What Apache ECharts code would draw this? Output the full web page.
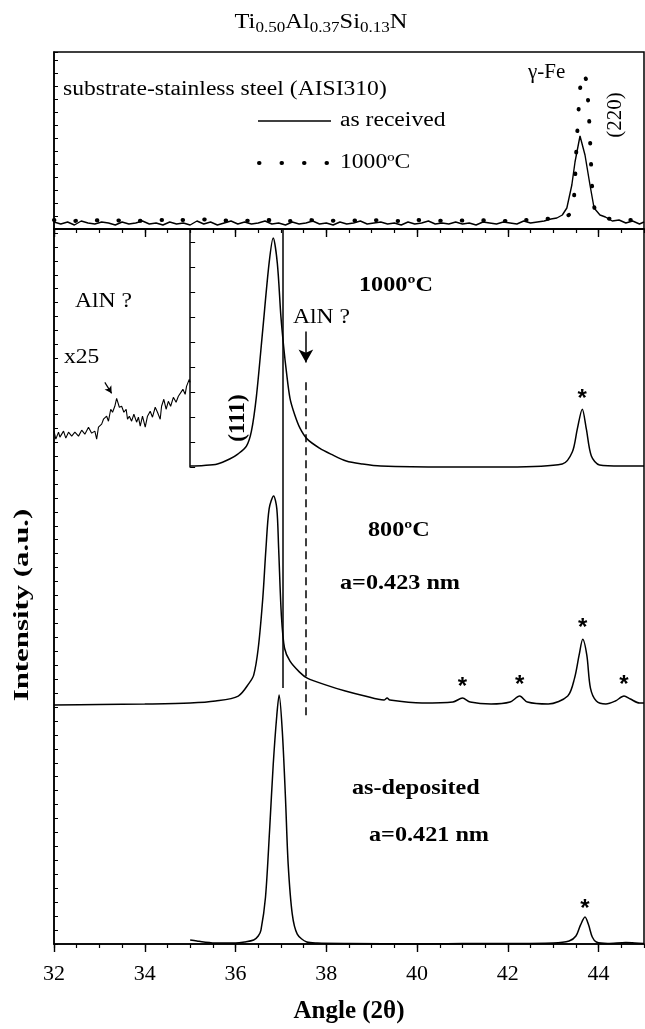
<!DOCTYPE html>
<html>
<head>
<meta charset="utf-8">
<script src="https://cdn.jsdelivr.net/npm/echarts@6/dist/echarts.min.js"></script>
<style>
  html, body { margin: 0; padding: 0; background: #fff; }
  #chart { width: 645px; height: 1029px; }
</style>
</head>
<body>
<div id="chart"></div>
<script>
// ---- Axis range and tick labels (2θ, degrees) ----
const ANGLE_MIN = 32;
const ANGLE_MAX = 45;
const ANGLE_LABELS = [32, 34, 36, 38, 40, 42, 44];

// ---- Substrate AISI310, top panel: [2θ, counts] ----
const substrateAsReceived = [
  [32.0,7],[32.15,5],[32.3,7],[32.45,4],[32.6,8],[32.75,6],[32.9,5],[33.05,7],[33.2,6],[33.35,4],
  [33.5,7],[33.65,5],[33.8,6],[33.95,8],[34.1,5],[34.25,6],[34.4,4],[34.55,7],[34.7,5],[34.85,6],
  [35.0,4],[35.15,8],[35.3,5],[35.45,7],[35.6,4],[35.75,6],[35.9,8],[36.05,5],[36.2,7],[36.35,5],
  [36.5,6],[36.65,8],[36.8,5],[36.95,6],[37.1,4],[37.25,7],[37.4,5],[37.55,6],[37.7,8],[37.85,5],
  [38.0,6],[38.15,4],[38.3,7],[38.45,5],[38.6,6],[38.75,8],[38.9,5],[39.05,6],[39.2,7],[39.35,5],
  [39.5,6],[39.65,4],[39.8,7],[39.95,5],[40.1,6],[40.25,8],[40.4,5],[40.55,6],[40.7,5],[40.85,7],
  [41.0,5],[41.15,6],[41.3,4],[41.45,7],[41.6,6],[41.75,5],[41.9,7],[42.05,6],[42.2,5],[42.35,8],
  [42.5,6],[42.65,7],[42.8,8],[42.95,10],[43.08,11],[43.2,14],[43.3,21],[43.41,44],[43.48,67],[43.59,93],
  [43.7,74],[43.81,44],[43.9,21],[44.03,14],[44.15,12],[44.3,8],[44.45,9],[44.6,6],[44.75,8],[44.9,5],[45.0,7]
];
const substrate1000 = [
  [32.0,9],[32.4,8],[32.8,9],[33.2,8],[33.6,9],[34.0,8],[34.4,9],[34.8,9],[35.2,10],[35.6,8],
  [36.0,9],[36.4,8],[36.8,9],[37.2,8],[37.6,9],[38.0,8],[38.4,9],[38.8,8],[39.2,9],[39.6,8],
  [40.0,9],[40.4,8],[40.8,9],[41.2,8],[41.6,9],[42.0,8],[42.4,9],[42.8,10],[43.1,11],[43.3,13],
  [43.42,17],[43.47,40],[43.51,80],[43.56,120],[43.61,148],[43.67,156],[43.73,148],[43.78,120],
  [43.82,80],[43.86,40],[43.92,18],[44.0,12],[44.3,10],[44.6,9],[45.0,9]
];

// ---- Ti0.50Al0.37Si0.13N coatings, lower panel: [2θ, counts above own baseline] ----
const asDeposited = [
  [35.0,4],[35.15,3],[35.3,2],[35.6,1],[36.0,1],[36.2,2],[36.4,4],[36.5,8],[36.56,14],[36.66,47],
  [36.75,114],[36.83,180],[36.91,230],[36.96,250],[37.03,214],[37.1,147],[37.16,80],[37.25,30],
  [37.36,10],[37.57,2],[37.8,1],[38.5,0.5],[40.0,0],[41.0,0.5],[42.0,0.5],[43.0,1],[43.35,3],
  [43.5,8],[43.6,19],[43.7,27],[43.78,19],[43.86,7],[43.95,2],[44.2,0.5],[44.6,1.5],[44.8,1],[45.0,0.5]
];
const annealed800 = [
  [32.0,0],[33.0,0.5],[34.0,1],[35.0,2],[35.56,4],[36.06,9],[36.3,22],[36.4,30],[36.5,57],[36.6,107],
  [36.67,157],[36.74,197],[36.84,210],[36.91,197],[36.95,157],[37.01,90],[37.08,57],[37.2,44],
  [37.41,33],[37.58,27],[38.0,20],[38.42,14],[38.85,9],[39.27,5],[39.34,7],[39.4,5],[40.11,2],
  [40.79,3],[41.0,7],[41.17,3],[41.63,1],[42.05,3],[42.26,9],[42.43,3],[42.89,1],[43.32,9],
  [43.47,27],[43.57,50],[43.65,66],[43.74,50],[43.82,17],[43.95,4],[44.16,1],[44.37,4],[44.56,9],
  [44.7,6],[44.9,2],[45.0,2]
];
const annealed1000 = [
  [35.0,0],[35.3,0.5],[35.6,2],[35.87,7],[36.05,12],[36.24,20],[36.35,35],[36.46,70],[36.6,137],
  [36.74,204],[36.83,229],[36.92,204],[37.0,150],[37.06,120],[37.12,95],[37.2,68],[37.3,52],
  [37.42,38],[37.58,27],[37.85,18],[38.1,12],[38.44,5],[38.8,2],[39.2,0],[40.65,-1],[42.0,-1],
  [43.2,2],[43.42,14],[43.53,37],[43.64,57],[43.73,37],[43.84,10],[44.02,1],[44.5,0],[45.0,0]
];
// 1000ºC scan below 35º, magnified x25
const zoom25Angle = [
  32.0,32.04,32.10,32.13,32.21,32.26,32.32,32.39,32.46,32.54,32.61,32.68,32.76,32.83,32.90,32.94,
  32.98,33.05,33.09,33.16,33.20,33.25,33.29,33.34,33.38,33.44,33.49,33.54,33.59,33.62,33.66,33.71,
  33.76,33.82,33.86,33.90,33.95,34.01,34.06,34.12,34.17,34.23,34.28,34.34,34.37,34.42,34.47,34.52,
  34.57,34.63,34.69,34.74,34.78,34.84,34.89,34.92,34.98,35.0
];
const zoom25Counts = [
  35,27,34,29,35,28,34,30,34,30,36,32,39,33,35,27,39,42,47,50,45,57,54,60,68,59,60,54,57,47,
  50,45,52,44,49,40,50,39,50,55,49,59,54,47,60,67,57,65,60,69,64,70,69,77,72,80,87,84
];

// Peaks flagged with an asterisk (2θ)
const starAsDeposited = [43.7];
const star800 = [41.0, 42.26, 43.65, 44.56];
const star1000 = [43.64];

// Reference lines (2θ)
const TIN_111 = 37.03;
const ALN_REF = 37.55;

// ---- Layout ----
const FONT = '"Liberation Serif", "Times New Roman", serif';
const GRID_LEFT = 54, GRID_RIGHT = 1;
const TOP_PANEL = { top: 52, height: 177 };
const LOW_PANEL = { top: 229, height: 718 };
const TOP_MAX = 177;          // counts span of top panel
const LOW_MAX = 718;          // counts span of lower panel
const OFFSET = { asDeposited: 0, t800: 240, t1000: 480 };
const INSET_ANGLE = 35;

const shift = (d, o) => d.map(([a, c]) => [a, c + o]);
const zoom25 = zoom25Angle.map((a, i) => [a, zoom25Counts[i] + OFFSET.t1000]);

function starPoints(data, angles, off, lift) {
  return angles.map(a => {
    let best = data[0];
    for (const p of data) if (Math.abs(p[0] - a) < Math.abs(best[0] - a)) best = p;
    return { coord: [a, best[1] + off], label: { offset: [0, -lift] } };
  });
}
const starMark = (pts) => ({
  silent: true, symbol: 'circle', symbolSize: 0, animation: false,
  label: { show: true, formatter: '*', position: 'inside', color: '#000',
           fontSize: 24, fontWeight: 'bold', fontFamily: '"Liberation Sans", Arial, sans-serif' },
  data: pts
});

const BLACK = '#000';
const axisLineStyle = { show: true, lineStyle: { color: BLACK, width: 1.5 } };

function xAxesFor(gridIndex, withLabels) {
  return [
    { type: 'value', gridIndex, position: 'bottom', min: ANGLE_MIN, max: ANGLE_MAX, interval: 0.5,
      axisLine: axisLineStyle, splitLine: { show: false },
      axisTick: { show: true, inside: false, length: 4, lineStyle: { color: BLACK, width: 1.2 } },
      axisLabel: { show: false } },
    { type: 'value', gridIndex, position: 'bottom', offset: 0, min: ANGLE_MIN, max: ANGLE_MAX, interval: 2,
      axisLine: { show: false }, splitLine: { show: false },
      axisTick: { show: true, inside: false, length: 8, customValues: ANGLE_LABELS,
                  lineStyle: { color: BLACK, width: 1.4 } },
      axisLabel: { show: withLabels, customValues: ANGLE_LABELS, color: BLACK,
                   fontFamily: FONT, fontSize: 22, margin: 19 },
      name: withLabels ? 'Angle (2θ)' : '', nameLocation: 'middle', nameGap: 55,
      nameTextStyle: { color: BLACK, fontFamily: FONT, fontSize: 25, fontWeight: 'bold' } }
  ];
}

const insetLeft = GRID_LEFT + (INSET_ANGLE - ANGLE_MIN) / (ANGLE_MAX - ANGLE_MIN) * (645 - GRID_LEFT - GRID_RIGHT);
const insetHeight = (LOW_MAX - OFFSET.t1000) / LOW_MAX * LOW_PANEL.height;

const lineBase = { type: 'line', showSymbol: false, symbol: 'none', silent: true, animation: false,
                   lineStyle: { color: BLACK, width: 1.5 } };

const option = {
  backgroundColor: '#fff',
  animation: false,
  grid: [
    { left: GRID_LEFT, right: GRID_RIGHT, top: TOP_PANEL.top, height: TOP_PANEL.height,
      show: true, borderColor: BLACK, borderWidth: 1.5, backgroundColor: 'transparent' },
    { left: GRID_LEFT, right: GRID_RIGHT, top: LOW_PANEL.top, height: LOW_PANEL.height,
      show: true, borderColor: BLACK, borderWidth: 1.5, backgroundColor: 'transparent' },
    { left: insetLeft, right: GRID_RIGHT, top: LOW_PANEL.top, height: insetHeight, show: false }
  ],
  xAxis: [
    ...xAxesFor(0, false),
    ...xAxesFor(1, true),
    { type: 'value', gridIndex: 2, min: 0, max: 1, show: false }
  ],
  yAxis: [
    { type: 'value', gridIndex: 0, position: 'left', min: 0, max: TOP_MAX, interval: 13,
      axisLine: axisLineStyle, splitLine: { show: false }, axisLabel: { show: false },
      axisTick: { show: true, inside: true, length: 4, lineStyle: { color: BLACK } } },
    { type: 'value', gridIndex: 1, position: 'left', min: 0, max: LOW_MAX, interval: 14,
      axisLine: axisLineStyle, splitLine: { show: false }, axisLabel: { show: false },
      axisTick: { show: true, inside: true, length: 4, lineStyle: { color: BLACK } } },
    { type: 'value', gridIndex: 2, position: 'left', min: 0, max: LOW_MAX - OFFSET.t1000, interval: 25,
      axisLine: axisLineStyle, splitLine: { show: false }, axisLabel: { show: false },
      axisTick: { show: true, inside: true, length: 5, lineStyle: { color: BLACK } } }
  ],
  series: [
    { ...lineBase, name: 'as received', xAxisIndex: 0, yAxisIndex: 0, data: substrateAsReceived,
      lineStyle: { color: BLACK, width: 1.4 } },
    { ...lineBase, name: '1000ºC', xAxisIndex: 0, yAxisIndex: 0, data: substrate1000, smooth: 0.2,
      lineStyle: { color: BLACK, width: 4, type: [0.5, 21], cap: 'round' } },
    { ...lineBase, name: 'as-deposited', xAxisIndex: 2, yAxisIndex: 1, smooth: 0.3,
      data: shift(asDeposited, OFFSET.asDeposited),
      markPoint: starMark(starPoints(asDeposited, starAsDeposited, OFFSET.asDeposited, 8)),
      markLine: {
        silent: true, symbol: 'none', animation: false, label: { show: false },
        data: [
          [{ coord: [TIN_111, LOW_MAX], lineStyle: { color: BLACK, width: 1.5, type: 'solid' } },
           { coord: [TIN_111, 257] }],
          [{ coord: [ALN_REF, 564], lineStyle: { color: BLACK, width: 1.5, type: [8, 5] } },
           { coord: [ALN_REF, 227] }],
          [{ coord: [ALN_REF, 615], symbol: 'none', lineStyle: { color: BLACK, width: 1.5, type: 'solid' } },
           { coord: [ALN_REF, 584], symbol: 'arrow', symbolSize: [11, 13] }],
          [{ coord: [33.12, 564], symbol: 'none', lineStyle: { color: BLACK, width: 1.2, type: 'solid' } },
           { coord: [33.27, 553], symbol: 'arrow', symbolSize: [6, 7] }]
        ]
      } },
    { ...lineBase, name: '800ºC', xAxisIndex: 2, yAxisIndex: 1, smooth: 0.3,
      data: shift(annealed800, OFFSET.t800),
      markPoint: starMark(starPoints(annealed800, star800, OFFSET.t800, 11)) },
    { ...lineBase, name: '1000ºC film', xAxisIndex: 2, yAxisIndex: 1, smooth: 0.3,
      data: shift(annealed1000, OFFSET.t1000),
      markPoint: starMark(starPoints(annealed1000, star1000, OFFSET.t1000, 10)) },
    { ...lineBase, name: 'x25', xAxisIndex: 2, yAxisIndex: 1, data: zoom25,
      lineStyle: { color: BLACK, width: 1.1 } }
  ]
};

// Text annotations (serif, slightly widened like the original lettering)
const T = (x, y, text, opt = {}) => ({
  type: 'text', x, y, rotation: opt.rot || 0, scaleX: opt.sx || 1, silent: true,
  style: { text, fill: BLACK, align: opt.align || 'left', verticalAlign: 'middle',
           font: (opt.bold ? 'bold ' : '') + (opt.size || 20) + 'px ' + FONT }
});
const N = { sx: 1.18 };
const B = { bold: true, size: 22, sx: 1.1 };
option.graphic = [
  { type: 'text', x: 321, y: 23, scaleX: 1.22, silent: true,
    style: { text: '{m|Ti}{s|0.50}{m|Al}{s|0.37}{m|Si}{s|0.13}{m|N}', align: 'center', verticalAlign: 'middle',
      rich: { m: { fontFamily: FONT, fontSize: 20, color: BLACK },
              s: { fontFamily: FONT, fontSize: 14, color: BLACK, padding: [11, 0, 0, 0] } } } },
  T(63, 90, 'substrate-stainless steel (AISI310)', N),
  { type: 'line', silent: true, shape: { x1: 258, y1: 121, x2: 331, y2: 121 },
    style: { stroke: BLACK, lineWidth: 1.5 } },
  T(340, 121, 'as received', N),
  { type: 'line', silent: true, shape: { x1: 259, y1: 163, x2: 327, y2: 163 },
    style: { stroke: BLACK, lineWidth: 4, lineDash: [0.5, 22], lineCap: 'round' } },
  T(340, 163, '1000ºC', N),
  T(528, 73, 'γ-Fe', { size: 20, sx: 1.05 }),
  T(615, 115, '(220)', { rot: Math.PI / 2, align: 'center', size: 21 }),
  T(75, 302, 'AlN ?', N),
  T(64, 358, 'x25', N),
  T(293, 318, 'AlN ?', N),
  T(359, 285, '1000ºC', B),
  T(238, 418, '(111)', { rot: Math.PI / 2, align: 'center', bold: true, size: 23 }),
  T(368, 530, '800ºC', B),
  T(340, 583, 'a=0.423 nm', B),
  T(352, 788, 'as-deposited', B),
  T(369, 835, 'a=0.421 nm', B),
  T(22, 605, 'Intensity (a.u.)', { rot: Math.PI / 2, align: 'center', bold: true, size: 22, sx: 1.4 })
];

const chart = echarts.init(document.getElementById('chart'), null, { renderer: 'canvas' });
chart.setOption(option);
</script>
</body>
</html>
